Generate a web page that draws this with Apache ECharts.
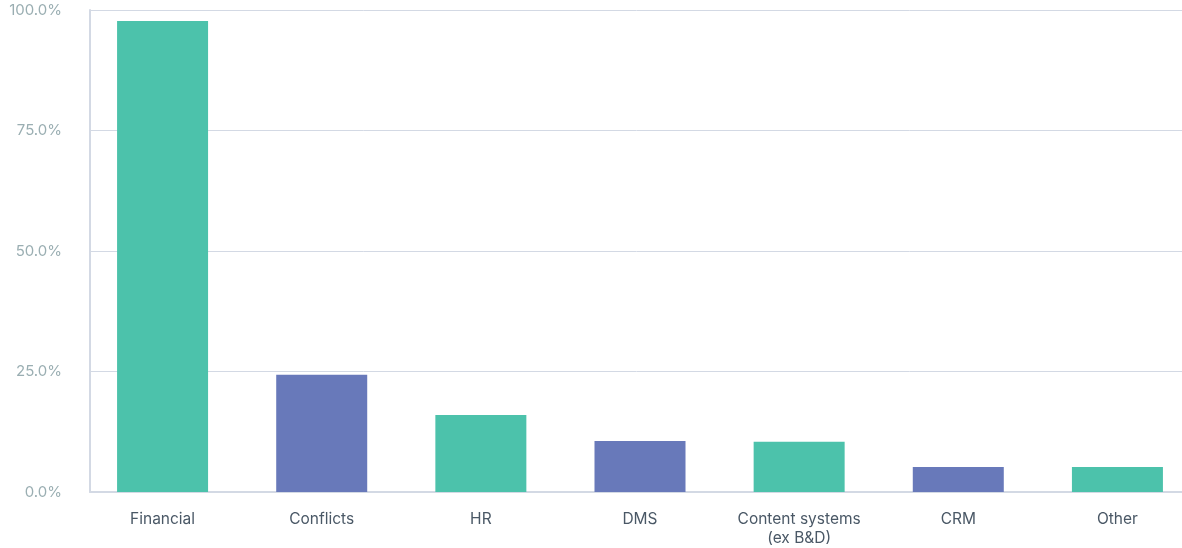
<!DOCTYPE html>
<html>
<head>
<meta charset="utf-8">
<script src="https://cdn.jsdelivr.net/npm/echarts@6/dist/echarts.min.js"></script>
<style>
    html, body { margin: 0; padding: 0; background: #fff; }
    #chart { width: 1182px; height: 548px; }
</style>
</head>
<body>
<div id="chart"></div>
<script>
const categories = ['Financial', 'Conflicts', 'HR', 'DMS', 'Content systems\n(ex B&D)', 'CRM', 'Other'];
const values = [97.7, 24.3, 16.0, 10.6, 10.4, 5.2, 5.2];
const barColors = ['#4cc2ab', '#6879ba', '#4cc2ab', '#6879ba', '#4cc2ab', '#6879ba', '#4cc2ab'];

const myChart = echarts.init(document.getElementById('chart'));
const option = {
    animation: false,
    // grid 0: gridlines + y labels, grid 1: the bars
    grid: [
        { top: 10, left: 90, width: 1100, bottom: 56, outerBoundsMode: 'none', containLabel: false },
        { top: 10, left: 83, width: 1114, bottom: 56, outerBoundsMode: 'none', containLabel: false },
    ],
    xAxis: [
        {
            gridIndex: 0,
            type: 'value',
            min: 0,
            max: 1,
            axisLabel: { show: false },
            axisTick: { show: false },
            splitLine: { show: false },
            axisLine: {
                show: true,
                lineStyle: { color: '#d3d9e4', width: 2 },
            },
        },
        {
            gridIndex: 1,
            type: 'category',
            data: categories,
            axisTick: { show: false },
            axisLine: { show: false },
            axisLabel: {
                interval: 0,
                color: '#4a5866',
                fontFamily: 'Inter',
                fontSize: 15.5,
                margin: 18,
                lineHeight: 19,
            },
        },
    ],
    yAxis: [
        {
            gridIndex: 0,
            type: 'value',
            min: 0,
            max: 100,
            interval: 25,
            axisLine: {
                show: true,
                lineStyle: { color: '#d3d9e4', width: 2 },
            },
            axisTick: { show: false },
            axisLabel: {
                color: '#9aaeb2',
                fontFamily: 'Inter',
                fontSize: 15,
                margin: 28,
                formatter: (v) => v.toFixed(1) + '%',
            },
            splitLine: {
                lineStyle: { color: '#d3d9e4', width: 1 },
            },
        },
        {
            gridIndex: 1,
            type: 'value',
            min: 0,
            max: 100,
            show: false,
        },
    ],
    series: [
        {
            type: 'bar',
            xAxisIndex: 1,
            yAxisIndex: 1,
            barWidth: 91,
            data: values.map((v, i) => ({ value: v, itemStyle: { color: barColors[i] } })),
        },
    ],
};
myChart.setOption(option);
</script>
</body>
</html>
